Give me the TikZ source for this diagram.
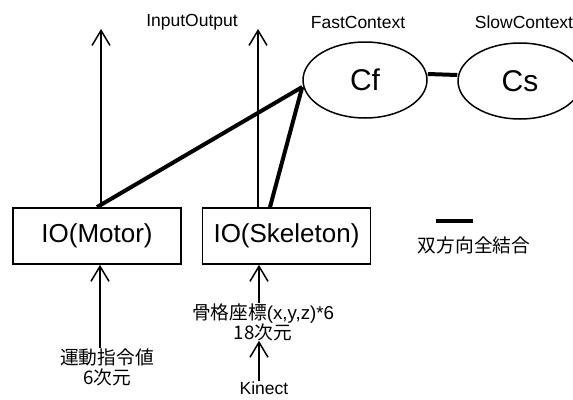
\documentclass[tikz,border=0pt]{standalone}
\usepackage{fontspec}
\setmainfont{Liberation Sans}
\newfontfamily\cjk{Noto Sans CJK JP}
\usetikzlibrary{arrows.meta,shapes.geometric}
\begin{document}
\begin{tikzpicture}[x=1pt,y=-1pt,
  arr/.style={line width=1.5pt,-{Straight Barb[length=15pt,width=18pt]}},
  conn/.style={line width=4pt},
  iobox/.style={draw,line width=1.8pt,minimum width=168pt,minimum height=56pt,inner sep=0pt,font=\fontsize{26}{30}\selectfont},
  ctx/.style={draw,ellipse,line width=1.5pt,minimum width=124pt,minimum height=76pt,inner sep=0pt,font=\fontsize{30}{34}\selectfont},
  small/.style={inner sep=0pt,font=\fontsize{17.5}{20}\selectfont},
  jp/.style={inner sep=0pt,align=center,font=\fontsize{18.7}{20}\selectfont}]
\useasboundingbox (0,0) rectangle (573,399);
\node[iobox] (M) at (97,236) {IO(Motor)};
\node[iobox] (S) at (286.5,236) {IO(Skeleton)};
\node[ctx] (Cf) at (365,80) {Cf};
\node[ctx] (Cs) at (520,81) {Cs};
\node[small] (tIO) at (192,22) {InputOutput};
\node[small] (tF) at (358,22) {FastContext};
\node[small] (tS) at (524,22) {SlowContext};
\coordinate (topM) at (101,29);
\coordinate (topS) at (258,29);
\draw[arr] ([xshift=4pt]M.north) -- (topM);
\draw[arr] ([xshift=-28.5pt]S.north) -- (topS);
\draw[conn] ([yshift=-7pt]Cf.west) -- (M.north);
\draw[conn] ([yshift=-7pt]Cf.west) -- ([xshift=-16.5pt]S.north);
\draw[conn] ([yshift=6pt]Cf.east) -- ([yshift=6pt]Cs.west);
% legend
\coordinate (L1) at (436,221);
\coordinate (L2) at (473,221);
\draw[conn] (L1) -- (L2);
\node[jp] (leg) at (474,245) {\cjk 双方向全結合};
% motor input
\node[jp] (mIn) at (107,367) {\cjk 運動指令値\\\cjk 6次元};
\draw[arr] (mIn.north -| 100,0) -- ([xshift=3pt]M.south);
% skeleton input
\node[jp] (sIn) at (263,322) {\cjk 骨格座標{\fontspec{Liberation Sans}(x,y,z)*6}\\\cjk 18次元};
\draw[arr] (sIn.north -| 259,0) -- ([xshift=-27.5pt]S.south);
\node[small] (kin) at (264,388) {Kinect};
\draw[arr] (kin.north -| 259,0) -- (sIn.south -| 259,0);
\end{tikzpicture}
\end{document}
